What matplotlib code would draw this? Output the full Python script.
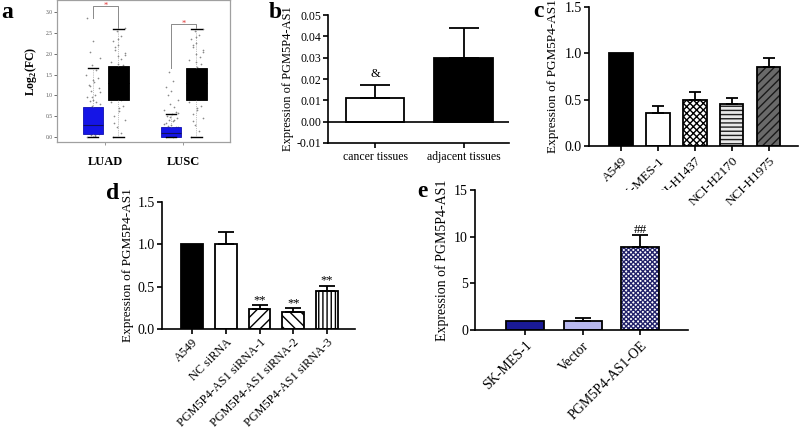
import numpy as np
import matplotlib.pyplot as plt
from matplotlib.ticker import FormatStrFormatter

plt.rcParams['font.family'] = 'Liberation Serif'
plt.rcParams['mathtext.fontset'] = 'custom'
plt.rcParams['mathtext.rm'] = 'Liberation Serif'
plt.rcParams['mathtext.bf'] = 'Liberation Serif:bold'
plt.rcParams['hatch.linewidth'] = 1.0

# ---- panel a: GEPIA box plot (tumor vs normal)
a_groups = ['LUAD', 'LUSC']
a_tumor_stats = [(0.0, 0.07, 0.30, 0.72, 1.66), (0.0, 0.0, 0.10, 0.24, 0.55)]
a_normal_stats = [(0.0, 0.89, 1.30, 1.70, 2.60), (0.0, 0.89, 1.30, 1.66, 2.60)]
a_sig_top = [3.14, 2.71]
a_sig_left = [2.85, 1.66]
a_sig_right = [2.62, 2.62]
a_pts_luad_t = [0.0, 0.02, 0.04, 0.07, 0.1, 0.12, 0.15, 0.18, 0.2, 0.23, 0.26, 0.3, 0.32,
                0.36, 0.4, 0.44, 0.47, 0.52, 0.56, 0.6, 0.64, 0.7, 0.74, 0.8, 0.86, 0.9,
                0.97, 1.02, 1.1, 1.18, 1.25, 1.33, 1.42, 1.5, 1.6, 1.72, 1.9, 2.05, 2.3, 2.85,
                0.05, 0.13, 0.22, 0.34, 0.45, 0.58, 0.68, 0.83, 0.95, 1.07, 1.22, 1.38]
a_pts_luad_n = [0.0, 0.1, 0.25, 0.4, 0.5, 0.62, 0.75, 0.85, 0.9, 0.98, 1.05, 1.12, 1.2,
                1.28, 1.35, 1.42, 1.5, 1.58, 1.65, 1.72, 1.8, 1.88, 1.95, 2.02, 2.1, 2.2,
                2.3, 2.42, 2.55, 2.62, 0.33, 0.7, 1.02, 1.25, 1.47, 1.76, 1.98, 2.15, 2.36]
a_pts_lusc_t = [0.0, 0.01, 0.03, 0.05, 0.07, 0.09, 0.12, 0.14, 0.17, 0.2, 0.23, 0.27, 0.3,
                0.34, 0.38, 0.42, 0.46, 0.5, 0.55, 0.6, 0.66, 0.72, 0.8, 0.9, 1.0, 1.1,
                1.2, 1.35, 1.55, 0.04, 0.11, 0.19, 0.25, 0.32, 0.4, 0.48, 0.58]
a_pts_lusc_n = [0.0, 0.15, 0.3, 0.45, 0.55, 0.65, 0.75, 0.85, 0.92, 1.0, 1.08, 1.15, 1.22,
                1.3, 1.38, 1.45, 1.52, 1.6, 1.68, 1.76, 1.85, 1.92, 2.0, 2.08, 2.15, 2.25,
                2.35, 2.45, 2.55, 2.6, 0.38, 0.7, 1.04, 1.27, 1.56, 1.8, 2.04, 2.2, 2.4]

# ---- panel b
b_cats = ['cancer tissues', 'adjacent tissues']
b_vals = [0.0110, 0.0300]
b_err_top = [0.0173, 0.0437]

# ---- panel c
c_cats = ['A549', 'SK-MES-1', 'NCI-H1437', 'NCI-H2170', 'NCI-H1975']
c_vals = [1.0, 0.355, 0.495, 0.448, 0.85]
c_err_top = [1.0, 0.43, 0.58, 0.52, 0.955]

# ---- panel d
d_cats = ['A549', 'NC siRNA', 'PGM5P4-AS1 siRNA-1', 'PGM5P4-AS1 siRNA-2', 'PGM5P4-AS1 siRNA-3']
d_vals = [1.0, 1.0, 0.235, 0.205, 0.445]
d_err_top = [1.0, 1.145, 0.28, 0.245, 0.51]
d_marks = ['', '', '**', '**', '**']

# ---- panel e
e_cats = ['SK-MES-1', 'Vector', 'PGM5P4-AS1-OE']
e_vals = [1.0, 1.0, 8.85]
e_err_top = [1.0, 1.25, 10.2]
e_marks = ['', '', '##']

ylab = 'Expression of PGM5P4-AS1'


def style(ax, fs):
    for s in ['top', 'right']:
        ax.spines[s].set_visible(False)
    for s in ['left', 'bottom']:
        ax.spines[s].set_linewidth(1.2)
    ax.tick_params(direction='out', length=3.5, width=1.2, labelsize=fs, pad=1.5)


def bars(ax, vals, errtop, fills, hatches, hcols, width, capsize):
    x = np.arange(len(vals))
    for i in range(len(vals)):
        ax.bar(x[i], vals[i], width, color=fills[i], hatch=hatches[i],
               edgecolor=hcols[i], linewidth=0, zorder=2)
        ax.bar(x[i], vals[i], width, fill=False, edgecolor='black', linewidth=1.3, zorder=3)
    up = np.array(errtop) - np.array(vals)
    keep = up > 0
    ax.errorbar(x[keep], np.array(vals)[keep], yerr=[np.zeros(keep.sum()), up[keep]],
                fmt='none', ecolor='black', elinewidth=1.3, capsize=capsize,
                capthick=1.3, zorder=4)
    return x


fig = plt.figure(figsize=(8, 4.29), dpi=100)

# ================= panel a
axa = fig.add_axes([57 / 800, 1 - 142 / 429, 173 / 800, 142 / 429])
gx = np.arange(1, len(a_groups) + 1)
t_pos = gx - 0.155
n_pos = gx + 0.17
jit = np.array([-0.07, 0.03, -0.02, 0.08, -0.05, 0.01, 0.06, -0.09, 0.04, -0.01, 0.09, -0.04, 0.0])
for pos, pts in [(t_pos[0], a_pts_luad_t), (n_pos[0], a_pts_luad_n),
                 (t_pos[1], a_pts_lusc_t), (n_pos[1], a_pts_lusc_n)]:
    pts = np.array(pts)
    off = np.resize(jit, len(pts))
    axa.scatter(pos + off, pts, s=1.5, color='#8a8a8a', zorder=1, linewidths=0)


def stat_dicts(stats, label):
    return [dict(whislo=s[0], q1=s[1], med=s[2], q3=s[3], whishi=s[4], label=label)
            for s in stats]


axa.bxp(stat_dicts(a_tumor_stats, ''), positions=t_pos, widths=0.25, patch_artist=True,
        showfliers=False, manage_ticks=False,
        boxprops=dict(facecolor='#1515e6', edgecolor='#1010b0', linewidth=0.6),
        medianprops=dict(color='#101060', linewidth=0.8),
        whiskerprops=dict(color='#888888', linewidth=0.5, linestyle=':'),
        capprops=dict(color='black', linewidth=1.0), zorder=2)
axa.bxp(stat_dicts(a_normal_stats, ''), positions=n_pos, widths=0.27, patch_artist=True,
        showfliers=False, manage_ticks=False,
        boxprops=dict(facecolor='black', edgecolor='black', linewidth=0.6),
        medianprops=dict(color='black', linewidth=0.8),
        whiskerprops=dict(color='#888888', linewidth=0.5, linestyle=':'),
        capprops=dict(color='black', linewidth=1.0), zorder=2)
for i in range(len(a_groups)):
    axa.plot([t_pos[i], t_pos[i], n_pos[i], n_pos[i]],
             [a_sig_left[i], a_sig_top[i], a_sig_top[i], a_sig_right[i]],
             color='#8a8a8a', lw=0.7, zorder=3)
    axa.text((t_pos[i] + n_pos[i]) / 2, a_sig_top[i], '*', color='#e03030',
             ha='center', va='center', fontsize=6, zorder=4)
axa.set_xlim(0.385, 2.6)
axa.set_ylim(-0.12, 3.29)
axa.set_yticks(np.arange(0, 3.01, 0.5))
axa.yaxis.set_major_formatter(FormatStrFormatter('%.1f'))
axa.set_xticks(gx)
axa.set_xticklabels(a_groups, fontweight='bold', fontsize=9)
axa.tick_params(axis='y', labelsize=4, length=2, width=0.6, colors='#555555', pad=1)
axa.tick_params(axis='x', length=2, width=0.6, colors='#888888', labelcolor='black', pad=8)
for s in axa.spines.values():
    s.set_color('#a0a0a0')
    s.set_linewidth(0.9)
axa.set_ylabel(r'Log$_\mathbf{2}$(FC)', fontweight='bold', fontsize=8.5, labelpad=5)

# ================= panel b
axb = fig.add_axes([328 / 800, 1 - 143 / 429, 181 / 800, 128 / 429])
xb = bars(axb, b_vals, b_err_top, ['white', 'black'], [None, None],
          ['white', 'black'], 0.66, 10.5)
axb.axhline(0, color='black', lw=1.2, zorder=5)
axb.text(xb[0], b_err_top[0] + 0.002, '&', ha='center', va='bottom', fontsize=9)
axb.set_xlim(-0.53, 1.51)
axb.set_ylim(-0.01, 0.05)
axb.set_yticks(np.arange(-0.01, 0.0501, 0.01))
axb.yaxis.set_major_formatter(FormatStrFormatter('%.2f'))
axb.set_xticks(xb)
axb.set_xticklabels(b_cats)
style(axb, 8.5)
axb.tick_params(axis='x', labelsize=8.5, pad=2)
axb.set_ylabel(ylab, fontsize=9, labelpad=2)

# ================= panel c
axc = fig.add_axes([589 / 800, 1 - 146 / 429, 209 / 800, 139 / 429])
xc = bars(axc, c_vals, c_err_top,
          ['black', 'white', 'white', '#e8e8e8', '#6a6a6a'],
          [None, None, 'xxxxx', '----', '////'],
          ['black', 'white', 'black', '#202020', '#1a1a1a'], 0.64, 4.5)
axc.set_xlim(-0.87, 4.8)
axc.set_ylim(0, 1.5)
axc.set_yticks([0, 0.5, 1.0, 1.5])
axc.yaxis.set_major_formatter(FormatStrFormatter('%.1f'))
axc.set_xticks(xc)
axc.set_xticklabels(c_cats, rotation=45, ha='right', rotation_mode='anchor')
style(axc, 10)
axc.tick_params(axis='x', labelsize=9.5, pad=3)
axc.set_ylabel(ylab, fontsize=9.5, labelpad=4)

# ================= panel d
axd = fig.add_axes([162 / 800, 1 - 329 / 429, 193 / 800, 127 / 429])
xd = bars(axd, d_vals, d_err_top,
          ['black', 'white', 'white', 'white', 'white'],
          [None, None, '///', '\\\\\\', '||||'],
          ['black', 'white', 'black', 'black', 'black'], 0.65, 5.5)
for i, m in enumerate(d_marks):
    if m:
        axd.text(xd[i], d_err_top[i] - 0.01, m, ha='center', va='bottom', fontsize=9)
axd.set_xlim(-0.89, 4.83)
axd.set_ylim(0, 1.5)
axd.set_yticks([0, 0.5, 1.0, 1.5])
axd.yaxis.set_major_formatter(FormatStrFormatter('%.1f'))
axd.set_xticks(xd)
axd.set_xticklabels(d_cats, rotation=45, ha='right', rotation_mode='anchor')
style(axd, 10)
axd.tick_params(axis='x', labelsize=8.8, pad=2)
axd.set_ylabel(ylab, fontsize=9.5, labelpad=3)

# ================= panel e
axe = fig.add_axes([475 / 800, 1 - 330 / 429, 213 / 800, 140 / 429])
xe = bars(axe, e_vals, e_err_top,
          ['#1a1a96', '#b8b8ee', 'white'],
          [None, None, 'xxxxxxx'],
          ['#1a1a96', '#b8b8ee', '#22226a'], 0.66, 6)
for i, m in enumerate(e_marks):
    if m:
        axe.text(xe[i], e_err_top[i] - 0.1, m, ha='center', va='bottom', fontsize=9.5)
axe.set_xlim(-0.87, 2.83)
axe.set_ylim(0, 15)
axe.set_yticks([0, 5, 10, 15])
axe.set_xticks(xe)
axe.set_xticklabels(e_cats, rotation=45, ha='right', rotation_mode='anchor')
style(axe, 10)
axe.tick_params(axis='x', labelsize=10, pad=3)
axe.set_ylabel(ylab, fontsize=10, labelpad=4)

# panel letters
for lab, x, y in [('a', 7, 18), ('b', 275, 18), ('c', 538, 17), ('d', 113, 199), ('e', 422, 197)]:
    fig.text(x / 800, 1 - y / 429, lab, fontsize=17, fontweight='bold',
             ha='center', va='baseline')

fig.savefig('out.png', dpi=100)
